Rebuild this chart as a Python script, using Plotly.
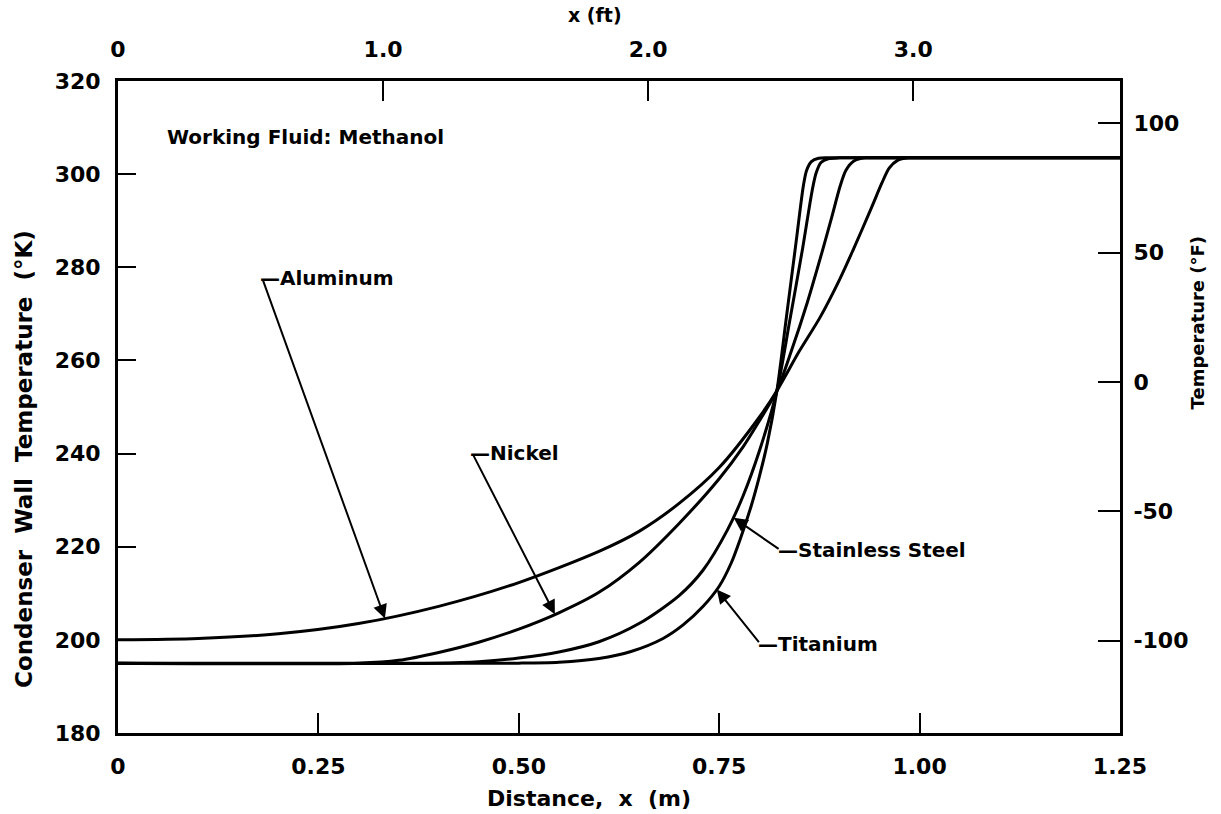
import plotly.graph_objects as go

# ---- data (distance in m, temperature in K) ----
al_x = [0, 0.10, 0.20, 0.30, 0.40, 0.50, 0.60, 0.65, 0.70, 0.75, 0.80, 0.822, 0.85, 0.876, 0.90, 0.917, 0.94, 0.953, 0.962, 0.972, 0.986, 1.00, 1.10, 1.25]
al_k = [200, 200.3, 201.3, 203.5, 207.2, 212.3, 219.0, 223.3, 229.3, 237.0, 247.8, 253.5, 262, 269.3, 277.3, 283.7, 292.8, 298.1, 301.3, 302.9, 303.5, 303.5, 303.5, 303.5]

ni_x = [0, 0.30, 0.35, 0.40, 0.45, 0.50, 0.55, 0.60, 0.65, 0.70, 0.75, 0.78, 0.80, 0.822, 0.84, 0.86, 0.879, 0.89, 0.901, 0.908, 0.918, 0.932, 0.946, 1.10, 1.25]
ni_k = [195, 195, 195.6, 197.3, 199.5, 202.3, 205.8, 210.2, 216.6, 225, 234.6, 241.5, 247, 253.5, 262, 272.5, 283.7, 290.5, 297.5, 300.8, 302.8, 303.5, 303.5, 303.5, 303.5]

ss_x = [0, 0.40, 0.45, 0.50, 0.55, 0.60, 0.65, 0.70, 0.73, 0.76, 0.78, 0.80, 0.822, 0.838, 0.854, 0.866, 0.871, 0.877, 0.886, 0.90, 0.914, 1.10, 1.25]
ss_k = [195, 195, 195.3, 196.1, 197.4, 199.6, 203.5, 209.5, 215, 223.5, 231, 240.5, 253.5, 268.5, 284, 296.5, 300.3, 302.5, 303.3, 303.5, 303.5, 303.5, 303.5]

ti_x = [0, 0.50, 0.55, 0.60, 0.64, 0.68, 0.705, 0.73, 0.75, 0.765, 0.776, 0.79, 0.80, 0.81, 0.822, 0.834, 0.846, 0.855, 0.859, 0.865, 0.874, 0.885, 0.90, 1.10, 1.25]
ti_k = [195, 195, 195.2, 196, 197.5, 200.3, 203.2, 207.2, 211.5, 216.5, 221.5, 228.8, 235, 242.2, 253.5, 269.5, 285.5, 297.5, 300.8, 302.7, 303.4, 303.5, 303.5, 303.5, 303.5]

# axis ticks
x_m_ticks = [0, 0.25, 0.50, 0.75, 1.00, 1.25]
x_m_text = ["0", "0.25", "0.50", "0.75", "1.00", "1.25"]
x_ft_ticks = [0, 1, 2, 3]
x_ft_text = ["0", "1.0", "2.0", "3.0"]
x_ft_max = 3.78
y_k_ticks = [180, 200, 220, 240, 260, 280, 300, 320]
y_f_ticks = [-100, -50, 0, 50, 100]
k_range = [180, 320]

# labels: (name, tip_x, tip_k, tail_x, tail_k)
labels = [
    ("Aluminum", 0.333, 204.6, 0.18, 277.6),
    ("Nickel", 0.545, 205.5, 0.4416, 240.2),
    ("Stainless Steel", 0.768, 226.2, 0.826, 219.3),
    ("Titanium", 0.747, 210.8, 0.801, 199.2),
]


def k_to_f(k):
    return (k - 273.15) * 9 / 5 + 32


FONT = dict(family="DejaVu Sans", color="black", weight="bold")
NB = "\u00a0"

fig = go.Figure()
for xs, ks in [(al_x, al_k), (ni_x, ni_k), (ss_x, ss_k), (ti_x, ti_k)]:
    fig.add_trace(go.Scatter(x=xs, y=ks, mode="lines",
                             line=dict(color="black", width=3, shape="spline", smoothing=0.8),
                             showlegend=False, hoverinfo="skip"))

# invisible traces to attach the secondary axes
fig.add_trace(go.Scatter(x=x_ft_ticks, y=[None] * len(x_ft_ticks), xaxis="x2", yaxis="y",
                         mode="markers", showlegend=False, hoverinfo="skip"))
fig.add_trace(go.Scatter(x=[None] * len(y_f_ticks), y=y_f_ticks, xaxis="x", yaxis="y2",
                         mode="markers", showlegend=False, hoverinfo="skip"))

annotations = []
for name, tx, tk, ax, ak in labels:
    annotations.append(dict(x=tx, y=tk, ax=ax, ay=ak, xref="x", yref="y", axref="x", ayref="y",
                            text="", showarrow=True, arrowhead=2, arrowsize=1.4, arrowwidth=2,
                            arrowcolor="black", standoff=0, startstandoff=0))
    annotations.append(dict(x=ax, y=ak, xref="x", yref="y", text="\u2014" + name,
                            showarrow=False, xanchor="left", yanchor="middle", xshift=-4,
                            font=dict(size=20, **FONT)))

annotations += [
    dict(x=0.059, y=308, xref="x", yref="y", text="Working Fluid: Methanol", showarrow=False,
         xanchor="left", yanchor="middle", font=dict(size=20, **FONT)),
    dict(x=-0.094, y=0.42, xref="paper", yref="paper",
         text="Condenser" + NB * 2 + "Wall" + NB * 2 + "Temperature" + NB * 2 + "(°K)",
         textangle=-90, showarrow=False, xanchor="center", yanchor="middle",
         font=dict(size=23, **FONT)),
    dict(x=1.077, y=0.63, xref="paper", yref="paper", text="Temperature (°F)",
         textangle=-90, showarrow=False, xanchor="center", yanchor="middle",
         font=dict(size=18, **FONT)),
    dict(x=0.47, y=-0.101, xref="paper", yref="paper",
         text="Distance," + NB * 2 + "x" + NB * 2 + "(m)",
         showarrow=False, xanchor="center", yanchor="middle", font=dict(size=22, **FONT)),
    dict(x=0.476, y=1.101, xref="paper", yref="paper", text="x (ft)",
         showarrow=False, xanchor="center", yanchor="middle", font=dict(size=19, **FONT)),
]

axis_common = dict(showgrid=False, zeroline=False, showline=True, linecolor="black", linewidth=3,
                   ticks="inside", tickcolor="black", tickwidth=2, mirror=False,
                   tickfont=dict(size=22, **FONT))

fig.update_layout(
    width=1221, height=814,
    margin=dict(l=118, r=101, t=81, b=81),
    paper_bgcolor="white", plot_bgcolor="white",
    showlegend=False,
    annotations=annotations,
    xaxis=dict(range=[0, 1.25], tickvals=x_m_ticks, ticktext=x_m_text, ticklen=20,
               ticklabelstandoff=12, **axis_common),
    yaxis=dict(range=k_range, tickvals=y_k_ticks, ticktext=[str(v) for v in y_k_ticks],
               ticklen=18, ticklabelstandoff=10, **axis_common),
    xaxis2=dict(range=[0, x_ft_max], tickvals=x_ft_ticks, ticktext=x_ft_text, ticklen=20,
                overlaying="x", side="top", anchor="y", ticklabelstandoff=12, **axis_common),
    yaxis2=dict(range=[k_to_f(k_range[0]), k_to_f(k_range[1])], tickvals=y_f_ticks,
                ticktext=[str(v) for v in y_f_ticks], ticklen=22, overlaying="y", side="right",
                anchor="x", ticklabelstandoff=6, **axis_common),
)

fig.write_html("out.html")
